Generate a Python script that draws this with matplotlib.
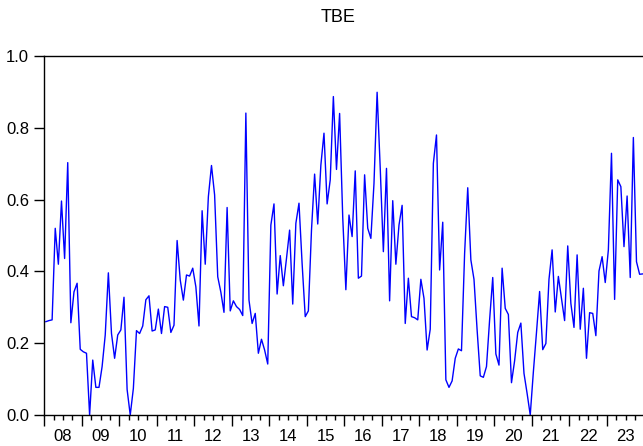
import matplotlib
matplotlib.use("Agg")
import matplotlib.pyplot as plt
import numpy as np

plt.rcParams["font.family"] = ["Liberation Sans", "DejaVu Sans"]

# monthly TBE values, 2008m1 .. 2023m12 (one list per year)
tbe_2008 = [0.26, 0.263, 0.265, 0.52, 0.42, 0.596, 0.436, 0.703, 0.257, 0.343, 0.367, 0.183]
tbe_2009 = [0.176, 0.172, 0.0, 0.153, 0.077, 0.077, 0.135, 0.223, 0.396, 0.227, 0.158, 0.223]
tbe_2010 = [0.237, 0.328, 0.071, 0.0, 0.074, 0.235, 0.227, 0.248, 0.321, 0.332, 0.234, 0.237]
tbe_2011 = [0.295, 0.227, 0.302, 0.30, 0.23, 0.25, 0.486, 0.376, 0.32, 0.39, 0.387, 0.409]
tbe_2012 = [0.357, 0.248, 0.569, 0.42, 0.608, 0.695, 0.613, 0.385, 0.342, 0.286, 0.578, 0.29]
tbe_2013 = [0.318, 0.302, 0.294, 0.277, 0.841, 0.32, 0.255, 0.283, 0.172, 0.211, 0.181, 0.142]
tbe_2014 = [0.529, 0.588, 0.337, 0.444, 0.36, 0.436, 0.515, 0.309, 0.534, 0.59, 0.422, 0.274]
tbe_2015 = [0.29, 0.515, 0.671, 0.532, 0.696, 0.785, 0.588, 0.655, 0.887, 0.684, 0.84, 0.55]
tbe_2016 = [0.349, 0.557, 0.497, 0.68, 0.381, 0.387, 0.669, 0.52, 0.492, 0.645, 0.899, 0.687]
tbe_2017 = [0.455, 0.687, 0.318, 0.597, 0.42, 0.529, 0.584, 0.255, 0.381, 0.274, 0.271, 0.265]
tbe_2018 = [0.378, 0.325, 0.181, 0.239, 0.701, 0.78, 0.404, 0.537, 0.098, 0.077, 0.095, 0.158]
tbe_2019 = [0.184, 0.179, 0.45, 0.633, 0.432, 0.378, 0.237, 0.109, 0.105, 0.135, 0.265, 0.383]
tbe_2020 = [0.17, 0.139, 0.409, 0.297, 0.28, 0.09, 0.151, 0.23, 0.256, 0.116, 0.06, 0.0]
tbe_2021 = [0.12, 0.23, 0.344, 0.182, 0.199, 0.378, 0.46, 0.287, 0.386, 0.325, 0.263, 0.471]
tbe_2022 = [0.311, 0.244, 0.446, 0.239, 0.353, 0.158, 0.285, 0.283, 0.221, 0.401, 0.441, 0.369]
tbe_2023 = [0.46, 0.729, 0.322, 0.655, 0.636, 0.469, 0.61, 0.383, 0.773, 0.427, 0.392, 0.393]

years = list(range(2008, 2024))
year_labels = [f"{y % 100:02d}" for y in years]
yticks = [0.0, 0.2, 0.4, 0.6, 0.8, 1.0]

tbe = (tbe_2008 + tbe_2009 + tbe_2010 + tbe_2011 + tbe_2012 + tbe_2013 + tbe_2014
       + tbe_2015 + tbe_2016 + tbe_2017 + tbe_2018 + tbe_2019 + tbe_2020 + tbe_2021
       + tbe_2022 + tbe_2023)
months = np.arange(len(tbe))

W, H = 643, 446
fig = plt.figure(figsize=(W / 100, H / 100), dpi=100)
ax = fig.add_axes([44.3 / W, 31 / H, 600 / W, 359 / H])

ax.plot(months, tbe, color="#0000ff", lw=1.0, clip_on=False)

ax.set_xlim(-0.5, len(tbe) - 0.5)
ax.set_ylim(0, 1)

ax.spines["right"].set_visible(False)
for s in ["left", "top", "bottom"]:
    ax.spines[s].set_linewidth(1.0)

ax.set_yticks(yticks, [f"{v:.1f}" for v in yticks])
ax.tick_params(axis="y", direction="out", length=7, width=1, pad=4, labelsize=12)

# year boundaries (major) and quarters (minor), labels centred in each year
n_years = len(years)
ax.set_xticks(np.arange(n_years + 1) * 12 - 0.5, [""] * (n_years + 1))
ax.set_xticks(np.arange(n_years * 4) * 3 - 0.5, minor=True)
ax.tick_params(axis="x", which="major", direction="out", length=8, width=1)
ax.tick_params(axis="x", which="minor", direction="out", length=3.5, width=1)

sec = ax.secondary_xaxis("bottom")
sec.set_xticks(np.arange(n_years) * 12 + 5.5, year_labels)
sec.tick_params(length=0, pad=10, labelsize=12)
sec.spines["bottom"].set_visible(False)

fig.text(338.5 / W, 1 - 17 / H, "TBE", ha="center", va="center", fontsize=13)

fig.savefig("out.png", dpi=100)
